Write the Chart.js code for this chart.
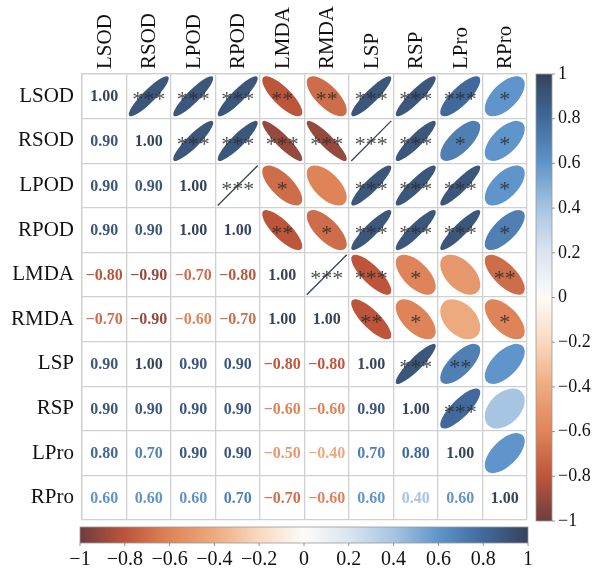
<!DOCTYPE html>
<html>
<head>
<meta charset="utf-8">
<script src="https://cdn.jsdelivr.net/npm/chart.js@4.4.0/dist/chart.umd.min.js"></script>
<style>
  html, body { margin: 0; padding: 0; background: #fff; }
  canvas { display: block; }
</style>
</head>
<body>
<canvas id="myChart" width="605" height="571"></canvas>
<script>
// variable names (rows and columns)
const vars = ['LSOD', 'RSOD', 'LPOD', 'RPOD', 'LMDA', 'RMDA', 'LSP', 'RSP', 'LPro', 'RPro'];

// correlation coefficients, one row per variable
const LSOD = [1.00, 0.90, 0.90, 0.90, -0.80, -0.70, 0.90, 0.90, 0.80, 0.60];
const RSOD = [0.90, 1.00, 0.90, 0.90, -0.90, -0.90, 1.00, 0.90, 0.70, 0.60];
const LPOD = [0.90, 0.90, 1.00, 1.00, -0.70, -0.60, 0.90, 0.90, 0.90, 0.60];
const RPOD = [0.90, 0.90, 1.00, 1.00, -0.80, -0.70, 0.90, 0.90, 0.90, 0.70];
const LMDA = [-0.80, -0.90, -0.70, -0.80, 1.00, 1.00, -0.80, -0.60, -0.50, -0.70];
const RMDA = [-0.70, -0.90, -0.60, -0.70, 1.00, 1.00, -0.80, -0.60, -0.40, -0.60];
const LSP = [0.90, 1.00, 0.90, 0.90, -0.80, -0.80, 1.00, 0.90, 0.70, 0.60];
const RSP = [0.90, 0.90, 0.90, 0.90, -0.60, -0.60, 0.90, 1.00, 0.80, 0.40];
const LPro = [0.80, 0.70, 0.90, 0.90, -0.50, -0.40, 0.70, 0.80, 1.00, 0.60];
const RPro = [0.60, 0.60, 0.60, 0.70, -0.70, -0.60, 0.60, 0.40, 0.60, 1.00];

// significance marks (upper triangle only)
const starsLSOD = ['', '***', '***', '***', '**', '**', '***', '***', '***', '*'];
const starsRSOD = ['', '', '***', '***', '***', '***', '***', '***', '*', '*'];
const starsLPOD = ['', '', '', '***', '*', '', '***', '***', '***', '*'];
const starsRPOD = ['', '', '', '', '**', '*', '***', '***', '***', '*'];
const starsLMDA = ['', '', '', '', '', '***', '***', '*', '', '**'];
const starsRMDA = ['', '', '', '', '', '', '**', '*', '', '*'];
const starsLSP = ['', '', '', '', '', '', '', '***', '**', ''];
const starsRSP = ['', '', '', '', '', '', '', '', '***', ''];
const starsLPro = ['', '', '', '', '', '', '', '', '', ''];
const starsRPro = ['', '', '', '', '', '', '', '', '', ''];

// colour bar ticks
const barTicks = [-1, -0.8, -0.6, -0.4, -0.2, 0, 0.2, 0.4, 0.6, 0.8, 1];

// palette
const paletteValues = [-1, -0.8, -0.6, -0.4, -0.2, 0, 0.2, 0.4, 0.6, 0.8, 1];
const paletteColors = ['#6e3d3e', '#bd553b', '#df8458', '#eeaa7f', '#f9d9bf', '#fdfbf8',
                       '#dae5f1', '#a6c5e2', '#5f95ca', '#41699c', '#35445b'];

const corr = [LSOD, RSOD, LPOD, RPOD, LMDA, RMDA, LSP, RSP, LPro, RPro];
const stars = [starsLSOD, starsRSOD, starsLPOD, starsRPOD, starsLMDA, starsRMDA, starsLSP, starsRSP, starsLPro, starsRPro];

function hexToRgb(h) {
    return [parseInt(h.substr(1, 2), 16), parseInt(h.substr(3, 2), 16), parseInt(h.substr(5, 2), 16)];
}

function colorFor(v) {
    for (let k = 0; k < paletteValues.length - 1; k++) {
        if (v <= paletteValues[k + 1]) {
            let t = (v - paletteValues[k]) / (paletteValues[k + 1] - paletteValues[k]);
            let a = hexToRgb(paletteColors[k]), b = hexToRgb(paletteColors[k + 1]);
            let c = a.map((x, n) => Math.round(x + (b[n] - x) * t));
            return `rgb(${c[0]},${c[1]},${c[2]})`;
        }
    }
    return paletteColors[paletteColors.length - 1];
}

function fmt(v, d) {
    return v.toFixed(d).replace('-', '\u2212');
}

let points = [];
for (let i = 0; i < vars.length; i++) {
    for (let j = 0; j < vars.length; j++) {
        points.push({ x: vars[j], y: vars[i], v: corr[i][j], s: stars[i][j], i: i, j: j });
    }
}

const serif = '"Liberation Serif", "DejaVu Serif", serif';

const corrPlot = {
    id: 'corrPlot',
    afterDatasetsDraw(chart) {
        const ctx = chart.ctx;
        const meta = chart.getDatasetMeta(0);
        const xs = chart.scales.x;
        const cell = Math.abs(xs.getPixelForValue(1) - xs.getPixelForValue(0));
        const s = cell * 0.45;
        ctx.save();

        // column labels, rotated
        ctx.fillStyle = '#111';
        ctx.font = '21px ' + serif;
        vars.forEach((name, j) => {
            ctx.save();
            ctx.translate(xs.getPixelForValue(j) + 1, chart.chartArea.top - 5);
            ctx.rotate(-Math.PI / 2);
            ctx.textAlign = 'left';
            ctx.textBaseline = 'middle';
            ctx.fillText(name, 0, 0);
            ctx.restore();
        });

        meta.data.forEach((pt, k) => {
            const d = points[k];
            const cx = pt.x, cy = pt.y;
            if (d.j <= d.i) {
                ctx.fillStyle = colorFor(d.v);
                ctx.font = 'bold 16px ' + serif;
                ctx.textAlign = 'center';
                ctx.textBaseline = 'middle';
                ctx.fillText(fmt(d.v, 2), cx, cy + 1);
            } else {
                const r = Math.abs(d.v);
                const a = s * Math.sqrt(1 + r);
                const b = s * Math.sqrt(1 - r);
                const rot = d.v > 0 ? -Math.PI / 4 : Math.PI / 4;
                if (b < 0.5) {
                    ctx.strokeStyle = colorFor(d.v);
                    ctx.lineWidth = 1.3;
                    ctx.beginPath();
                    ctx.moveTo(cx - a * Math.cos(rot), cy - a * Math.sin(rot));
                    ctx.lineTo(cx + a * Math.cos(rot), cy + a * Math.sin(rot));
                    ctx.stroke();
                } else {
                    ctx.fillStyle = colorFor(d.v);
                    ctx.beginPath();
                    ctx.ellipse(cx, cy, a, b, rot, 0, Math.PI * 2);
                    ctx.fill();
                }
                if (d.s) {
                    ctx.fillStyle = 'rgba(45,45,45,0.85)';
                    ctx.font = '22px ' + serif;
                    ctx.textAlign = 'center';
                    ctx.textBaseline = 'alphabetic';
                    ctx.fillText(d.s, cx, cy + 10);
                }
            }
        });

        // right colour bar
        const rx0 = 536, rx1 = 552, ry0 = chart.chartArea.top, ry1 = chart.chartArea.bottom + 1;
        let g = ctx.createLinearGradient(0, ry1, 0, ry0);
        paletteValues.forEach((v, n) => g.addColorStop((v + 1) / 2, paletteColors[n]));
        ctx.fillStyle = g;
        ctx.fillRect(rx0, ry0, rx1 - rx0, ry1 - ry0);
        ctx.strokeStyle = '#9a9a9a';
        ctx.lineWidth = 0.8;
        ctx.strokeRect(rx0, ry0, rx1 - rx0, ry1 - ry0);
        ctx.fillStyle = '#111';
        ctx.font = '18px ' + serif;
        ctx.textAlign = 'left';
        ctx.textBaseline = 'middle';
        barTicks.forEach(v => {
            const y = ry1 - (v + 1) / 2 * (ry1 - ry0);
            ctx.strokeStyle = '#777';
            ctx.beginPath();
            ctx.moveTo(rx1, y);
            ctx.lineTo(rx1 + 3, y);
            ctx.stroke();
            ctx.fillText(v === 0 ? '0' : fmt(v, Number.isInteger(v) ? 0 : 1), rx1 + 6, y);
        });

        // bottom colour bar
        const bx0 = 80, bx1 = 528, by0 = 527, by1 = 543;
        g = ctx.createLinearGradient(bx0, 0, bx1, 0);
        paletteValues.forEach((v, n) => g.addColorStop((v + 1) / 2, paletteColors[n]));
        ctx.fillStyle = g;
        ctx.fillRect(bx0, by0, bx1 - bx0, by1 - by0);
        ctx.strokeStyle = '#9a9a9a';
        ctx.strokeRect(bx0, by0, bx1 - bx0, by1 - by0);
        ctx.fillStyle = '#111';
        ctx.font = '20px ' + serif;
        ctx.textAlign = 'center';
        ctx.textBaseline = 'middle';
        barTicks.forEach(v => {
            const x = bx0 + (v + 1) / 2 * (bx1 - bx0);
            ctx.strokeStyle = '#777';
            ctx.beginPath();
            ctx.moveTo(x, by1);
            ctx.lineTo(x, by1 + 3);
            ctx.stroke();
            ctx.fillText(v === 0 ? '0' : fmt(v, Number.isInteger(v) ? 0 : 1), x, 560);
        });
        ctx.restore();
    }
};

new Chart('myChart', {
    type: 'scatter',
    data: {
        datasets: [{
            data: points,
            pointRadius: 0,
            pointHoverRadius: 0
        }]
    },
    options: {
        responsive: false,
        animation: false,
        events: [],
        layout: { padding: { left: 0, top: 0, right: 78, bottom: 51 } },
        plugins: {
            legend: { display: false },
            tooltip: { enabled: false }
        },
        scales: {
            x: {
                type: 'category',
                labels: vars,
                position: 'top',
                offset: true,
                grid: { offset: true, color: '#d0d0d0', lineWidth: 1.3, drawTicks: false },
                border: { color: '#d0d0d0', width: 1.3 },
                ticks: { display: false },
                afterFit: function (scale) { scale.height = 74; }
            },
            y: {
                type: 'category',
                labels: vars,
                offset: true,
                grid: { offset: true, color: '#d0d0d0', lineWidth: 1.3, drawTicks: false },
                border: { color: '#d0d0d0', width: 1.3 },
                ticks: {
                    padding: 8, color: '#111',
                    font: { family: serif, size: 21 }
                },
                afterFit: function (scale) { scale.width = 82; }
            }
        }
    },
    plugins: [corrPlot]
});
</script>
</body>
</html>
